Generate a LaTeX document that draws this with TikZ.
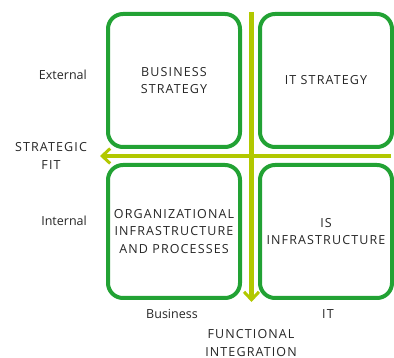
\documentclass[tikz,border=0pt]{standalone}
\usepackage{fontspec}
\setmainfont{Open Sans}
\newfontfamily\capsfont[LetterSpace=9]{Open Sans}
\usetikzlibrary{arrows.meta}
\definecolor{boxgreen}{RGB}{34,162,52}
\definecolor{lime}{RGB}{178,200,0}
\tikzset{
  quad/.style={draw=boxgreen, line width=4pt, rounded corners=15pt, minimum width=132pt, minimum height=133pt, inner sep=0pt, align=center, font=\capsfont\fontsize{12.5}{17.5}\selectfont, text=black!85},
  lbl/.style={font=\fontsize{12.5}{17.5}\selectfont, text=black!85, inner sep=0pt},
  caplbl/.style={font=\capsfont\fontsize{12.5}{17.5}\selectfont, text=black!85, inner sep=0pt, align=center},
  axis/.style={draw=lime, line width=4.5pt, -{Straight Barb[length=8pt, width=15pt, line width=3pt]}}
}
\begin{document}
\begin{tikzpicture}[x=1pt, y=-1pt]
\useasboundingbox (0,0) rectangle (394,358);
\node[quad] (bs) at (174,80.5) {BUSINESS\\STRATEGY};
\node[quad] (its) at (326,80.5) {IT STRATEGY};
\node[quad] (oi) at (174,231.5) {ORGANIZATIONAL\\INFRASTRUCTURE\\AND PROCESSES};
\node[quad] (isi) at (326,231.5) {IS\\INFRASTRUCTURE};
\coordinate (vtop) at (251.5,12);
\coordinate (vbot) at (251.5,302);
\coordinate (hright) at (391,156);
\coordinate (hleft) at (100,156);
\draw[axis] (vtop) -- (vbot);
\draw[axis] (hright) -- (hleft);
\node[lbl, anchor=east] (ext) at (87,75) {External};
\node[lbl, anchor=east] (int) at (87,221) {Internal};
\node[caplbl] (sf) at (51,156) {STRATEGIC\\FIT};
\node[lbl] (bus) at (172,314) {Business};
\node[caplbl] (it) at (328,314) {IT};
\node[caplbl] (fi) at (251,343) {FUNCTIONAL\\INTEGRATION};
\end{tikzpicture}
\end{document}
